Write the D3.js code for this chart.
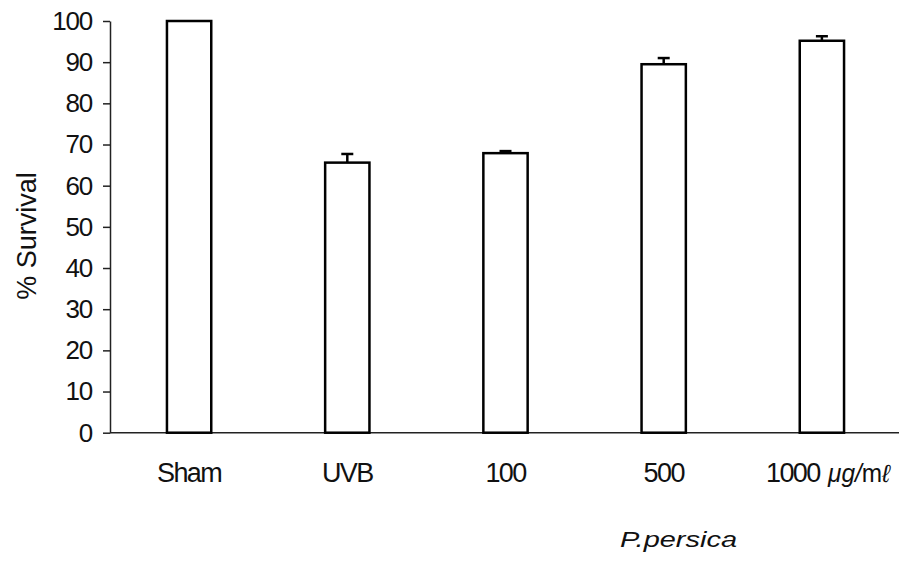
<!DOCTYPE html>
<html><head><meta charset="utf-8">
<script src="https://cdn.jsdelivr.net/npm/d3@7"></script>
<style>body{margin:0;background:#fff}svg{display:block}text{font-family:"Liberation Sans",Arial,sans-serif;fill:#111}</style>
</head><body><svg id="c" width="899" height="562"></svg>
<script>
const categories = ["Sham","UVB","100","500","1000"];
const survival = [100, 65.6, 67.9, 89.5, 95.2];
const errors = [0, 2.1, 0.5, 1.5, 1.1];
const yTicks = [0,10,20,30,40,50,60,70,80,90,100];

const svg = d3.select("#c");
const x = d3.scaleBand().domain(categories).range([110, 901]).padding(0);
const y = d3.scaleLinear().domain([0,100]).range([432.7, 21]);
const bw = x.bandwidth()*0.28;

// y axis
const ya = svg.append("g").attr("transform","translate(110,0)")
  .call(d3.axisLeft(y).tickValues(yTicks).tickSize(7).tickPadding(11).tickSizeOuter(0));
ya.select(".domain").attr("stroke","#222").attr("stroke-width",1.5);
ya.selectAll(".tick line").attr("stroke","#222").attr("stroke-width",1.5);
ya.selectAll(".tick text").attr("font-size",26).attr("letter-spacing",-1.2).attr("fill","#111")
  .attr("font-family","'Liberation Sans',Arial,sans-serif");

// x axis line
svg.append("line").attr("x1",110).attr("x2",899).attr("y1",y(0)).attr("y2",y(0))
  .attr("stroke","#222").attr("stroke-width",1.5);

// bars
svg.selectAll("rect.bar").data(categories).join("rect")
  .attr("x",d=>x(d)+x.bandwidth()/2-bw/2)
  .attr("y",(d,i)=>y(survival[i]))
  .attr("width",bw)
  .attr("height",(d,i)=>y(0)-y(survival[i]))
  .attr("fill","#fff").attr("stroke","#000").attr("stroke-width",2.5);

// error bars
categories.forEach((d,i)=>{
  if(errors[i]<=0) return;
  const cx = x(d)+x.bandwidth()/2;
  svg.append("line").attr("x1",cx).attr("x2",cx).attr("y1",y(survival[i])).attr("y2",y(survival[i]+errors[i]))
    .attr("stroke","#000").attr("stroke-width",2.5);
  svg.append("line").attr("x1",cx-6).attr("x2",cx+6).attr("y1",y(survival[i]+errors[i])).attr("y2",y(survival[i]+errors[i]))
    .attr("stroke","#000").attr("stroke-width",2.5);
});

// x labels
categories.forEach((d,i)=>{
  const cx = x(d)+x.bandwidth()/2;
  const t = svg.append("text").attr("y",482).attr("font-size",27).attr("letter-spacing",-1.6);
  if(i===4){
    t.attr("x",766).attr("text-anchor","start").text(d);
    const u = svg.append("text").attr("x",828).attr("y",482).attr("font-size",25)
      .attr("textLength",62).attr("lengthAdjust","spacingAndGlyphs");
    u.append("tspan").attr("font-style","italic").text("μg/");
    u.append("tspan").text("m");
    u.append("tspan").attr("font-style","italic").text("ℓ");
  } else {
    t.attr("x",cx).attr("text-anchor","middle").text(d);
  }
});

svg.append("text").attr("x",620).attr("y",547).attr("font-size",22).attr("font-style","italic")
  .attr("textLength",117).attr("lengthAdjust","spacingAndGlyphs").text("P.persica");

svg.append("text").attr("transform","translate(36,236) rotate(-90)").attr("text-anchor","middle")
  .attr("font-size",27).text("% Survival");
</script></body></html>
